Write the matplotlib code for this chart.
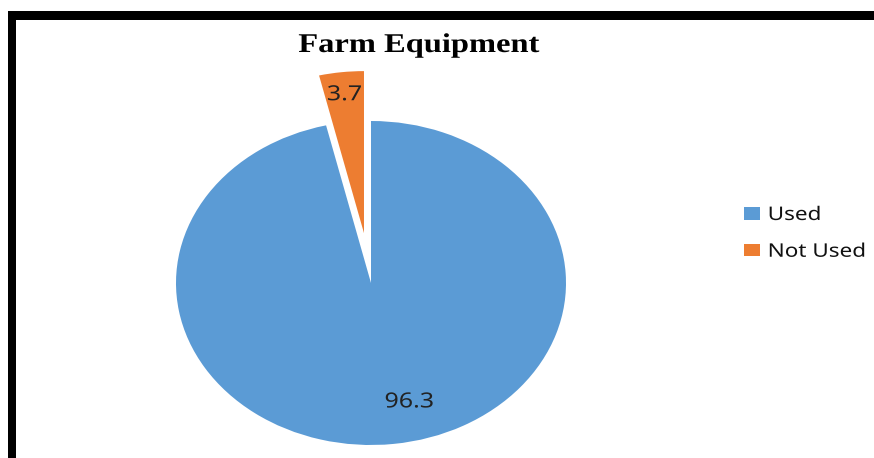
import matplotlib
matplotlib.use("Agg")
import matplotlib.pyplot as plt
from matplotlib.patches import Rectangle
from matplotlib.patheffects import AbstractPathEffect
from matplotlib.transforms import Affine2D
import numpy as np

# Data
categories = ["Used", "Not Used"]
values = [96.3, 3.7]
colors = ["#5B9BD5", "#ED7D31"]
title = "Farm Equipment"


class Widen(AbstractPathEffect):
    """Draw text glyphs widened horizontally around their left edge or centre."""

    def __init__(self, factor=1.2, anchor="center"):
        super().__init__()
        self.factor = factor
        self.anchor = anchor

    def draw_path(self, renderer, gc, tpath, affine, rgbFace=None):
        ext = tpath.get_extents(affine)
        cx = ext.x0 if self.anchor == "left" else 0.5 * (ext.x0 + ext.x1)
        tr = affine + Affine2D().translate(-cx, 0).scale(self.factor, 1).translate(cx, 0)
        renderer.draw_path(gc, tpath, tr, rgbFace)


W, H = 874, 458
fig = plt.figure(figsize=(W / 100, H / 100), dpi=100)
fig.patch.set_facecolor("white")

# Pie axes (stretched horizontally: 195 px per unit in x, 162 px per unit in y)
sx, sy = 195.0, 162.0
cx_px, cy_px = 371.0, 175.0
xlim = (-1.3, 1.3)
ylim = (-1.2, 1.6)
ax_w = (xlim[1] - xlim[0]) * sx
ax_h = (ylim[1] - ylim[0]) * sy
ax_l = cx_px + xlim[0] * sx
ax_b = cy_px + ylim[0] * sy
ax = fig.add_axes([ax_l / W, ax_b / H, ax_w / W, ax_h / H])

wedges, texts, autotexts = ax.pie(
    values,
    colors=colors,
    startangle=90,
    counterclock=False,
    explode=[0, 0.31],
    autopct=lambda p: f"{p:.1f}",
    pctdistance=0.86,
    wedgeprops=dict(linewidth=0),
    textprops=dict(fontsize=15, family="Noto Sans", color="#222222"),
)
ax.set_aspect("auto")
ax.set_xlim(*xlim)
ax.set_ylim(*ylim)
ax.axis("off")

# place the large slice's value lower-right of centre, as in a best-fit layout
label_angle = np.deg2rad(-75)
label_r = 0.76
autotexts[0].set_position((label_r * np.cos(label_angle), label_r * np.sin(label_angle)))
for t in autotexts:
    t.set_path_effects([Widen(1.2, "center")])

# Title
fig.text(419 / W, 1 - 52 / H, title, ha="center", va="baseline",
         fontsize=19.5, fontweight="bold", family="Liberation Serif",
         color="black", path_effects=[Widen(1.2, "center")])

# Legend
fs = 13.5
leg = fig.legend(
    wedges, categories,
    loc="upper left",
    bbox_to_anchor=(744 / W, 1 - 206 / H),
    frameon=False,
    borderpad=0, borderaxespad=0,
    handlelength=0.85, handleheight=0.64,
    handletextpad=0.43,
    labelspacing=1.0,
    prop=dict(family="Noto Sans", size=fs),
)
for t in leg.get_texts():
    t.set_color("#111111")
    t.set_path_effects([Widen(1.2, "left")])

# Frame edges along the top and left
fig.add_artist(Rectangle((7.5 / W, 1 - 20 / H), (W - 7.5) / W, 9 / H,
                         transform=fig.transFigure, color="black", lw=0))
fig.add_artist(Rectangle((7.5 / W, 0), 8.5 / W, 1 - 11 / H,
                         transform=fig.transFigure, color="black", lw=0))

fig.savefig("out.png", dpi=100, facecolor="white")
